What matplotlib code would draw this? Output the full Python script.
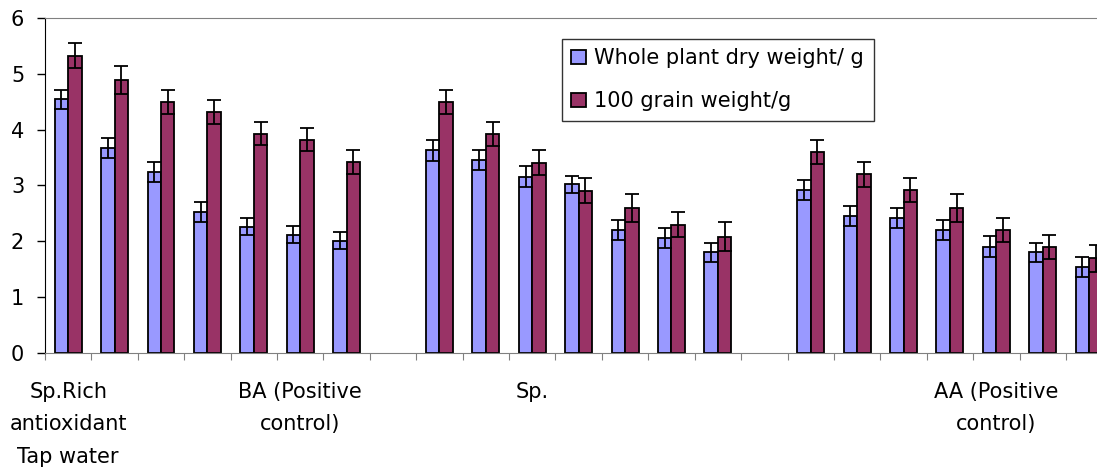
import numpy as np
import matplotlib.pyplot as plt

plt.rcParams['font.family'] = ['DejaVu Sans']

# 23 category slots: 7 + gap + 7 + gap + 7
dry_weight = [4.55, 3.68, 3.24, 2.53, 2.26, 2.12, 2.01, np.nan,
              3.63, 3.45, 3.16, 3.02, 2.20, 2.05, 1.80, np.nan,
              2.92, 2.45, 2.41, 2.20, 1.90, 1.80, 1.54]
dry_err = [0.17, 0.18, 0.18, 0.18, 0.15, 0.15, 0.15, np.nan,
           0.19, 0.18, 0.19, 0.15, 0.18, 0.18, 0.17, np.nan,
           0.18, 0.18, 0.18, 0.18, 0.19, 0.17, 0.18]
grain_weight = [5.33, 4.90, 4.50, 4.32, 3.93, 3.82, 3.42, np.nan,
                4.50, 3.92, 3.41, 2.91, 2.59, 2.30, 2.08, np.nan,
                3.60, 3.20, 2.92, 2.59, 2.20, 1.90, 1.69]
grain_err = [0.22, 0.25, 0.22, 0.22, 0.21, 0.21, 0.21, np.nan,
             0.22, 0.22, 0.22, 0.22, 0.25, 0.22, 0.26, np.nan,
             0.21, 0.22, 0.21, 0.25, 0.21, 0.22, 0.25]

category_labels = ['Sp.Rich\nantioxidant\nTap water', '', '', '', '',
                   'BA (Positive\ncontrol)', '', '', '', '',
                   'Sp.', '', '', '', '',
                   '', '', '', '', '',
                   'AA (Positive\ncontrol)', '', '']

x = np.arange(len(dry_weight))
w = 0.29

fig = plt.figure(figsize=(10.97, 4.69), dpi=100)
ax = fig.add_axes([0.041, 0.248, 0.973, 0.713])

ax.bar(x - 0.145, dry_weight, w, color='#9999FF', edgecolor='black',
       linewidth=1.3, label='Whole plant dry weight/ g', zorder=2)
ax.bar(x + 0.145, grain_weight, w, color='#993366', edgecolor='black',
       linewidth=1.3, label='100 grain weight/g', zorder=2)
ax.errorbar(x - 0.145, dry_weight, yerr=dry_err, fmt='none', ecolor='black',
            elinewidth=1.3, capsize=5, capthick=1.3, zorder=3)
ax.errorbar(x + 0.145, grain_weight, yerr=grain_err, fmt='none', ecolor='black',
            elinewidth=1.3, capsize=5, capthick=1.3, zorder=3)

ax.set_xlim(-0.5, len(x) - 0.5)
ax.set_ylim(0, 6)
ax.set_yticks(range(7))
ax.tick_params(axis='y', labelsize=15, length=6, width=1, pad=9)

# boundary ticks (major) and category names (minor)
ax.set_xticks(np.arange(len(x) + 1) - 0.5)
ax.set_xticklabels([])
ax.tick_params(axis='x', which='major', length=5, color='#808080')
lab_pos = [i for i, s in enumerate(category_labels) if s]
ax.set_xticks(lab_pos, minor=True)
ax.set_xticklabels([category_labels[i] for i in lab_pos], minor=True,
                   fontsize=15, linespacing=1.78)
ax.tick_params(axis='x', which='minor', length=0, pad=21)

ax.spines['right'].set_visible(False)
ax.spines['top'].set_color('#808080')
ax.spines['bottom'].set_color('#808080')
ax.spines['left'].set_color('black')

leg = ax.legend(loc='upper left', bbox_to_anchor=(0.484, 0.939),
                fontsize=15, frameon=True, fancybox=False, borderpad=0.47,
                labelspacing=1.09, handlelength=0.7, handleheight=0.7,
                handletextpad=0.4, borderaxespad=0)
leg.get_frame().set_edgecolor('black')
leg.get_frame().set_linewidth(1)

fig.savefig('out.png', dpi=100)
